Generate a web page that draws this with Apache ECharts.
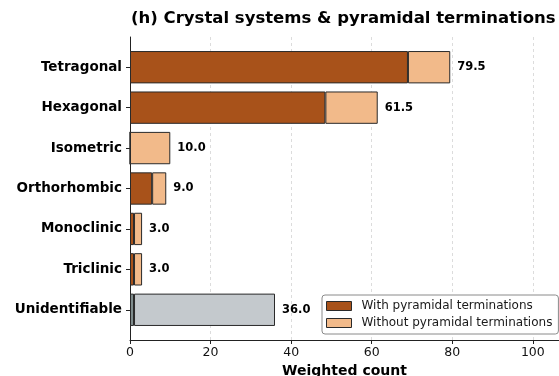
<!DOCTYPE html>
<html>
<head>
<meta charset="utf-8">
<script src="https://cdn.jsdelivr.net/npm/echarts@6/dist/echarts.min.js"></script>
<style>
  html, body { margin: 0; padding: 0; background: #fff; }
  #chart { width: 559px; height: 376px; }
</style>
</head>
<body>
<div id="chart"></div>
<script>
// Crystal systems, split by presence of pyramidal terminations
const categories = ['Tetragonal', 'Hexagonal', 'Isometric', 'Orthorhombic', 'Monoclinic', 'Triclinic', 'Unidentifiable'];
const withPyramidal = [69, 48.5, 0, 5.5, 1, 1, 1];
const withoutPyramidal = [10.5, 13, 10, 3.5, 2, 2, 35];
const totals = [79.5, 61.5, 10.0, 9.0, 3.0, 3.0, 36.0];
const xTicks = [0, 20, 40, 60, 80, 100];

const FONT = 'DejaVu Sans';
const DARK = '#a8521a';
const LIGHT = '#f2ba8a';
const GREY_DARK = '#7f8c8d';
const GREY_LIGHT = '#c4c9cd';
const EDGE = '#2a2a2a';
const lastIdx = categories.length - 1;
const X_MAX = 106.5;

const chart = echarts.init(document.getElementById('chart'), null, { renderer: 'canvas' });

const withData = withPyramidal.map((v, i) => i === lastIdx
  ? { value: v, itemStyle: { color: GREY_DARK } } : v);
const withoutData = withoutPyramidal.map((v, i) => i === lastIdx
  ? { value: v, itemStyle: { color: GREY_LIGHT } } : v);

chart.setOption({
  animation: false,
  title: {
    text: '(h) Crystal systems & pyramidal terminations',
    left: 131, top: 10, padding: 0,
    textStyle: { fontFamily: FONT, fontWeight: 'bold', fontSize: 16.5, color: '#000' }
  },
  legend: {
    left: 322, top: 295,
    orient: 'vertical',
    icon: 'rect',
    itemWidth: 25, itemHeight: 9, itemGap: 5,
    padding: [5, 6, 5, 4],
    borderColor: '#8a8a8a', borderWidth: 1, borderRadius: 3,
    backgroundColor: '#fff',
    textStyle: { fontFamily: FONT, fontSize: 12, color: '#1a1a1a', padding: [0, 0, 0, 5] },
    data: [
      { name: 'With pyramidal terminations', itemStyle: { color: DARK, borderColor: EDGE, borderWidth: 1 } },
      { name: 'Without pyramidal terminations', itemStyle: { color: LIGHT, borderColor: EDGE, borderWidth: 1 } }
    ]
  },
  grid: [
    // frame grid: spines, x ticks and grid lines
    { left: 130, top: 37, width: 429, height: 303, containLabel: false, outerBoundsMode: 'none' },
    // bar grid: category bands
    { left: 130, top: 47, width: 429, height: 283, containLabel: false, outerBoundsMode: 'none' }
  ],
  xAxis: [
    {
      gridIndex: 0, type: 'value', min: 0, max: X_MAX, interval: 20,
      axisLine: { show: true, lineStyle: { color: '#222', width: 1 } },
      axisTick: { show: true, length: 4, lineStyle: { color: '#222' } },
      axisLabel: {
        fontFamily: FONT, fontSize: 12.5, color: '#111', margin: 6,
        formatter: v => xTicks.includes(v) ? String(v) : ''
      },
      splitLine: { show: true, lineStyle: { color: '#d4d4d4', type: [3, 3], width: 0.8 } },
      name: 'Weighted count', nameLocation: 'middle', nameGap: 17,
      nameTextStyle: { fontFamily: FONT, fontWeight: 'bold', fontSize: 14, color: '#000', verticalAlign: 'top' }
    },
    {
      gridIndex: 1, type: 'value', min: 0, max: X_MAX, show: false
    }
  ],
  yAxis: [
    {
      gridIndex: 0, type: 'value', min: 0, max: 1,
      axisLine: { show: true, lineStyle: { color: '#222', width: 1 } },
      axisTick: { show: false }, axisLabel: { show: false }, splitLine: { show: false }
    },
    {
      gridIndex: 1, type: 'category', data: categories, inverse: true,
      axisLine: { show: false },
      axisTick: { show: true, alignWithLabel: true, length: 4, lineStyle: { color: '#222' } },
      axisLabel: { fontFamily: FONT, fontWeight: 'bold', fontSize: 13.5, color: '#000', margin: 8 },
      splitLine: { show: false }
    }
  ],
  series: [
    {
      name: 'With pyramidal terminations', type: 'bar', stack: 'total',
      xAxisIndex: 1, yAxisIndex: 1, barWidth: '80%',
      itemStyle: { color: DARK, borderColor: EDGE, borderWidth: 1 },
      data: withData
    },
    {
      name: 'Without pyramidal terminations', type: 'bar', stack: 'total',
      xAxisIndex: 1, yAxisIndex: 1, barWidth: '80%',
      itemStyle: { color: LIGHT, borderColor: EDGE, borderWidth: 1 },
      label: {
        show: true, position: 'right', distance: 7,
        fontFamily: FONT, fontWeight: 'bold', fontSize: 11.5, color: '#000',
        formatter: p => totals[p.dataIndex].toFixed(1)
      },
      data: withoutData
    }
  ]
});
</script>
</body>
</html>
